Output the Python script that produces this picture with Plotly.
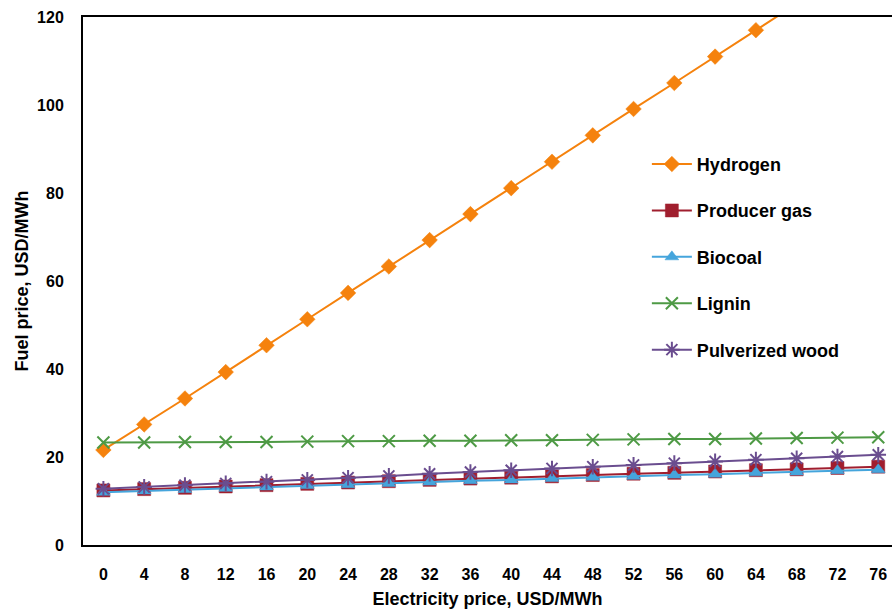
import plotly.graph_objects as go

electricity_price = [0, 4, 8, 12, 16, 20, 24, 28, 32, 36, 40, 44, 48, 52, 56, 60, 64, 68, 72, 76]

hydrogen = [21.6, 27.4, 33.3, 39.3, 45.4, 51.3, 57.3, 63.3, 69.3, 75.2, 81.1, 87.1, 93.1, 99.1, 105.0, 111.0, 117.0, 123.0, 129.0, 135.0]
producer_gas = [12.4, 12.7, 13.0, 13.3, 13.6, 13.9, 14.2, 14.5, 14.8, 15.1, 15.3, 15.6, 15.9, 16.2, 16.4, 16.7, 17.0, 17.2, 17.5, 17.8]
biocoal = [12.0, 12.3, 12.6, 12.9, 13.2, 13.5, 13.7, 14.0, 14.3, 14.6, 14.8, 15.1, 15.4, 15.6, 15.9, 16.1, 16.4, 16.6, 16.9, 17.1]
lignin = [23.3, 23.3, 23.4, 23.4, 23.4, 23.5, 23.6, 23.6, 23.7, 23.7, 23.8, 23.8, 23.9, 24.0, 24.1, 24.1, 24.2, 24.3, 24.4, 24.5]
pulverized_wood = [12.8, 13.2, 13.6, 14.0, 14.4, 14.8, 15.3, 15.7, 16.2, 16.6, 17.0, 17.4, 17.8, 18.2, 18.6, 19.0, 19.4, 19.7, 20.1, 20.5]

series = [
    ("Hydrogen", hydrogen, "#F5820D", "diamond", 12),
    ("Producer gas", producer_gas, "#A01E2E", "square", 13),
    ("Biocoal", biocoal, "#45A5DC", "triangle-up", 12),
    ("Lignin", lignin, "#4E9A45", "x-thin-open", 12),
    ("Pulverized wood", pulverized_wood, "#6A4D8F", "asterisk-open", 13),
]

FONT = "Arial, Liberation Sans, sans-serif"

fig = go.Figure()
for name, vals, color, sym, size in series:
    open_sym = sym.endswith("open")
    fig.add_trace(go.Scatter(
        x=electricity_price, y=vals, name=name, mode="lines+markers",
        legendgroup=name,
        line=dict(color=color, width=2),
        marker=dict(symbol=sym, size=size, color=color,
                    line=dict(color=color, width=2 if open_sym else 0.5)),
    ))

fig.update_layout(
    width=892, height=609,
    margin=dict(l=83, r=0, t=17, b=64, autoexpand=False),
    paper_bgcolor="white", plot_bgcolor="white",
    font=dict(family=FONT, color="black"),
    showlegend=True,
    legend=dict(
        x=0.697, y=0.756, xanchor="left", yanchor="top",
        font=dict(family=FONT, size=18, color="black", weight="bold"),
        tracegroupgap=20, bgcolor="rgba(0,0,0,0)", itemwidth=40,
    ),
    xaxis=dict(
        range=[-2, 77.35], tickvals=electricity_price, automargin=False,
        showgrid=False, zeroline=False, showline=True, linecolor="black",
        linewidth=2, mirror=True, ticks="",
        ticklabelstandoff=14,
        tickfont=dict(family=FONT, size=16, color="black", weight="bold"),
        title=dict(text="Electricity price, USD/MWh", standoff=10,
                   font=dict(family=FONT, size=18, color="black", weight="bold")),
    ),
    yaxis=dict(
        range=[0, 120], tickvals=[0, 20, 40, 60, 80, 100, 120], automargin=False,
        showgrid=False, zeroline=False, showline=True, linecolor="black",
        linewidth=2, ticks="",
        ticklabelstandoff=14,
        tickfont=dict(family=FONT, size=16, color="black", weight="bold"),
        title=dict(text="Fuel price, USD/MWh", standoff=4,
                   font=dict(family=FONT, size=18, color="black", weight="bold")),
    ),
)

fig.write_html(
    "out.html",
    config={"displayModeBar": False},
    post_script="document.body.style.margin='0';document.body.style.overflow='hidden';",
)
